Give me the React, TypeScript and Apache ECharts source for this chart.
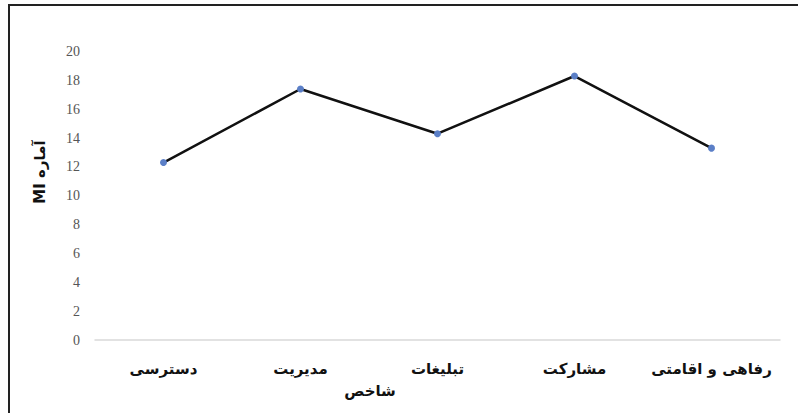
import React, { useEffect, useRef } from "react";
import * as echarts from "echarts";

const categories = ["دسترسی", "مدیریت", "تبلیغات", "مشارکت", "رفاهی و اقامتی"];
const values = [12.3, 17.4, 14.3, 18.3, 13.3];
const yTicks = [0, 2, 4, 6, 8, 10, 12, 14, 16, 18, 20];
const yAxisTitle = "MI آماره";
const xAxisTitle = "شاخص";

export default function App() {
  const ref = useRef<HTMLDivElement>(null);
  useEffect(() => {
    if (!ref.current) return;
    const chart = echarts.init(ref.current, null, { renderer: "svg" });
    chart.setOption({
      animation: false,
      backgroundColor: "#ffffff",
      grid: { left: 95, right: 18, top: 51.5, bottom: 73 },
      xAxis: {
        type: "category",
        data: categories,
        boundaryGap: true,
        axisLine: { show: true, lineStyle: { color: "#d9d9d9", width: 1.5 } },
        axisTick: { show: false },
        axisLabel: {
          interval: 0,
          hideOverlap: false,
          margin: 21,
          color: "#111",
          fontFamily: "DejaVu Sans",
          fontWeight: "bold",
          fontSize: 15,
        },
      },
      yAxis: {
        type: "value",
        min: yTicks[0],
        max: yTicks[yTicks.length - 1],
        interval: 2,
        axisLine: { show: false },
        axisTick: { show: false },
        splitLine: { show: false },
        axisLabel: {
          margin: 15,
          color: "#555",
          fontFamily: "Liberation Serif",
          fontSize: 14,
        },
      },
      series: [
        {
          type: "line",
          data: values,
          symbol: "circle",
          symbolSize: 7,
          itemStyle: { color: "#5b7fc7" },
          lineStyle: { color: "#111", width: 2.5 },
        },
      ],
      graphic: [
        {
          type: "rect",
          shape: { x: 9, y: 5, width: 800, height: 420 },
          style: { fill: "none", stroke: "#222", lineWidth: 2 },
          silent: true,
        },
        {
          type: "text",
          x: 40,
          y: 172,
          rotation: Math.PI / 2,
          style: {
            text: yAxisTitle,
            fontFamily: "DejaVu Sans",
            fontWeight: "bold",
            fontSize: 15,
            fill: "#111",
            align: "center",
            verticalAlign: "middle",
          },
        },
        {
          type: "text",
          x: 370,
          y: 391,
          style: {
            text: xAxisTitle,
            fontFamily: "DejaVu Sans",
            fontWeight: "bold",
            fontSize: 15,
            fill: "#111",
            align: "center",
            verticalAlign: "middle",
          },
        },
      ],
    });
    return () => chart.dispose();
  }, []);
  return (
    <div
      ref={ref}
      style={{ position: "fixed", left: 0, top: 0, width: 798, height: 413 }}
    />
  );
}
